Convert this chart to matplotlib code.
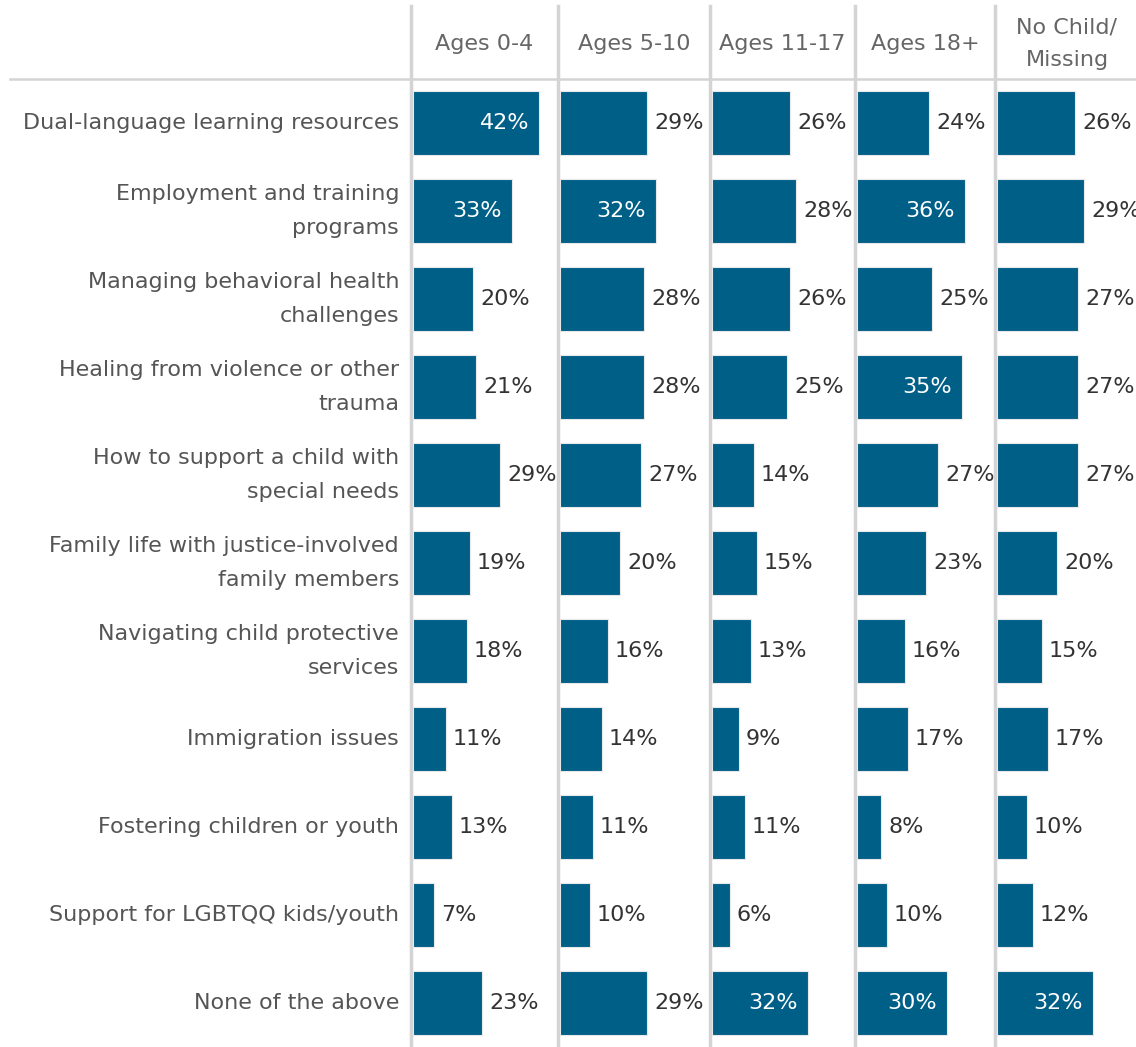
import matplotlib
matplotlib.use("Agg")
import matplotlib.pyplot as plt

plt.rcParams['font.family'] = ['DejaVu Sans']

categories = [
    "Dual-language learning resources",
    "Employment and training\nprograms",
    "Managing behavioral health\nchallenges",
    "Healing from violence or other\ntrauma",
    "How to support a child with\nspecial needs",
    "Family life with justice-involved\nfamily members",
    "Navigating child protective\nservices",
    "Immigration issues",
    "Fostering children or youth",
    "Support for LGBTQQ kids/youth",
    "None of the above",
]
groups = ["Ages 0-4", "Ages 5-10", "Ages 11-17", "Ages 18+", "No Child/\nMissing"]

ages_0_4 = [42, 33, 20, 21, 29, 19, 18, 11, 13, 7, 23]
ages_5_10 = [29, 32, 28, 28, 27, 20, 16, 14, 11, 10, 29]
ages_11_17 = [26, 28, 26, 25, 14, 15, 13, 9, 11, 6, 32]
ages_18_up = [24, 36, 25, 35, 27, 23, 16, 17, 8, 10, 30]
no_child = [26, 29, 27, 27, 27, 20, 15, 17, 10, 12, 32]
values = [ages_0_4, ages_5_10, ages_11_17, ages_18_up, no_child]

W, H = 1136, 1047
bar_color = "#005f87"
grid_color = "#d4d4d4"
px_per_pct = 3.0
fs = 16

# panel edges in pixels (left separator of each column)
edges = [411, 558, 710, 855, 995, 1136]
top_rows = 79
bottom_rows = 1047

fig = plt.figure(figsize=(W / 100, H / 100), dpi=100)
fig.patch.set_facecolor("white")

n = len(categories)
for i, vals in enumerate(values):
    x0, x1 = edges[i], edges[i + 1]
    ax = fig.add_axes([x0 / W, 1 - bottom_rows / H, (x1 - x0) / W, (bottom_rows - top_rows) / H])
    ax.set_xlim(-2 / px_per_pct, (x1 - x0 - 2) / px_per_pct)
    ax.set_ylim(n - 0.5, -0.5)
    ax.barh(range(n), vals, height=0.73, color=bar_color, edgecolor="#e8e8e8", linewidth=0.8)
    for j, v in enumerate(vals):
        if v >= 30:
            ax.text(v - 10 / px_per_pct, j, f"{v}%", ha="right", va="center",
                    color="white", fontsize=fs)
        else:
            ax.text(v + 7 / px_per_pct, j, f"{v}%", ha="left", va="center",
                    color="#333333", fontsize=fs)
    ax.axis("off")

# overlay for lines and labels in pixel coords
ov = fig.add_axes([0, 0, 1, 1], zorder=-1)
ov.set_xlim(0, W)
ov.set_ylim(H, 0)
ov.axis("off")

for x in edges[:-1]:
    ov.plot([x, x], [6, H], color=grid_color, lw=2.5)
ov.plot([10, W], [top_rows, top_rows], color=grid_color, lw=1.8)

row_h = (bottom_rows - top_rows) / n
for j, cat in enumerate(categories):
    y = top_rows + row_h * (j + 0.5)
    ov.text(399, y, cat, ha="right", va="center", color="#555555",
            fontsize=fs, linespacing=1.9)

for i, g in enumerate(groups):
    xc = (edges[i] + edges[i + 1]) / 2
    if i == 4:
        xc = 1067
    ov.text(xc, 44, g, ha="center", va="center", color="#666666",
            fontsize=fs, linespacing=1.8)

fig.savefig("out.png", dpi=100)
